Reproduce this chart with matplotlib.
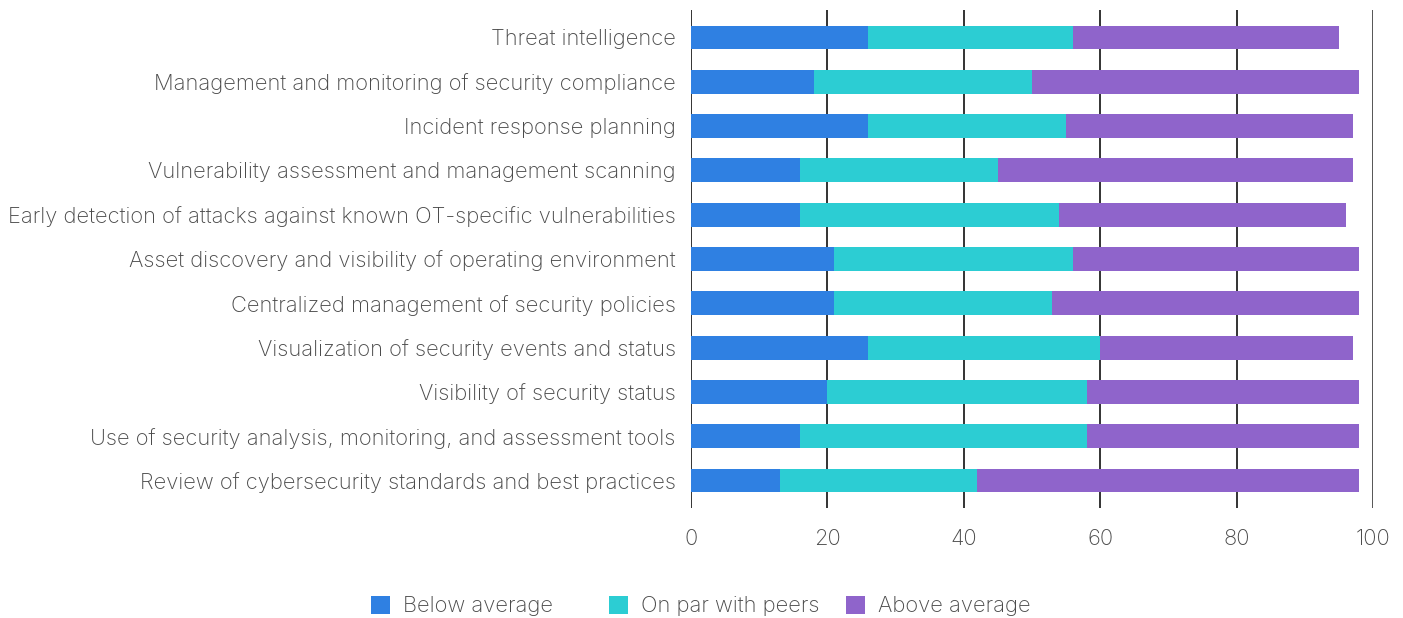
import numpy as np
import matplotlib.pyplot as plt
from matplotlib.patches import Patch

plt.rcParams['font.family'] = ['Inter', 'DejaVu Sans']

categories = [
    "Threat intelligence",
    "Management and monitoring of security compliance",
    "Incident response planning",
    "Vulnerability assessment and management scanning",
    "Early detection of attacks against known OT-specific vulnerabilities",
    "Asset discovery and visibility of operating environment",
    "Centralized management of security policies",
    "Visualization of security events and status",
    "Visibility of security status",
    "Use of security analysis, monitoring, and assessment tools",
    "Review of cybersecurity standards and best practices",
]
below_avg = [26, 18, 26, 16, 16, 21, 21, 26, 20, 16, 13]
on_par = [30, 32, 29, 29, 38, 35, 32, 34, 38, 42, 29]
above_avg = [39, 48, 42, 52, 42, 42, 45, 37, 40, 40, 56]
series_names = ["Below average", "On par with peers", "Above average"]
colors = ["#2f80e2", "#2ccdd3", "#8f64cb"]
xticks = [0, 20, 40, 60, 80, 100]

text_col = "#4a4a4a"
fs = 15.8
W, H = 1403, 618

fig = plt.figure(figsize=(W / 100, H / 100), dpi=100)
ax = fig.add_axes([691 / W, 1 - 508 / H, 682 / W, 498 / H])

y = np.arange(len(categories))
left = np.zeros(len(categories))
for vals, col, name in zip([below_avg, on_par, above_avg], colors, series_names):
    ax.barh(y, vals, left=left, height=0.54, color=col, label=name, zorder=3)
    left += np.array(vals)

ax.set_xlim(0, 100)
ax.set_ylim(len(categories) - 0.38, -0.62)
ax.set_yticks(y)
ax.set_yticklabels(categories, fontsize=fs, color=text_col, fontweight='light')
ax.set_xticks(xticks)
ax.set_xticklabels([str(t) for t in xticks], fontsize=fs, color=text_col, fontweight='light')
ax.tick_params(axis='both', length=0)
ax.tick_params(axis='y', pad=11)
ax.tick_params(axis='x', pad=15)

for t in xticks:
    ax.axvline(t, color="#333333" if t < 100 else "#555555", lw=1.4, zorder=2)
for s in ax.spines.values():
    s.set_visible(False)

# legend entries sit in fixed-width slots, one small legend per entry
slot_x = [371, 609, 846]
for name, col, sx in zip(series_names, colors, slot_x):
    leg = fig.legend([Patch(facecolor=col, edgecolor='none')], [name], loc='center left',
                     bbox_to_anchor=(sx / W, 1 - 606 / H), frameon=False, fontsize=fs,
                     handlelength=0.87, handleheight=0.87, handletextpad=0.6,
                     borderpad=0, borderaxespad=0)
    for txt in leg.get_texts():
        txt.set_color(text_col)
        txt.set_fontweight('light')

fig.savefig("out.png", dpi=100)
